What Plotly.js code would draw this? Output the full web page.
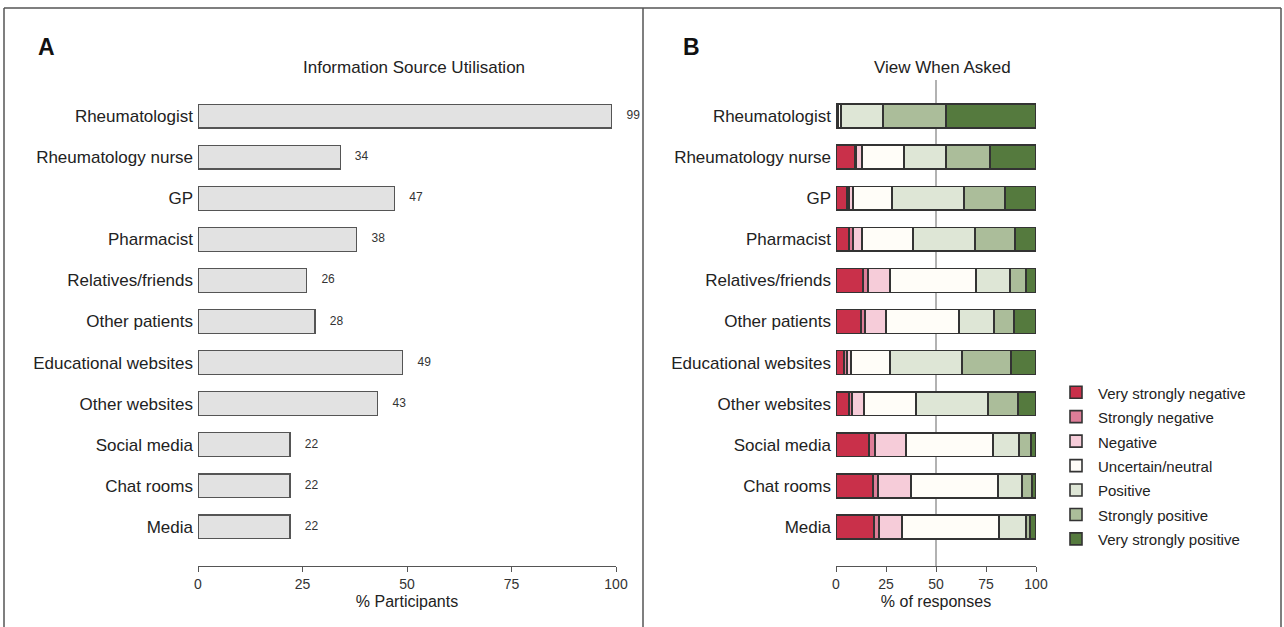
<!DOCTYPE html>
<html><head><meta charset="utf-8">
<script src="https://cdn.plot.ly/plotly-3.0.1.min.js"></script>
<style>html,body{margin:0;padding:0;background:#fff;}#chart{width:1284px;height:627px;}</style>
</head><body><div id="chart"></div>
<script>
var sources = ["Rheumatologist","Rheumatology nurse","GP","Pharmacist","Relatives/friends","Other patients","Educational websites","Other websites","Social media","Chat rooms","Media"];
var utilisation = [99,34,47,38,26,28,49,43,22,22,22];
var levels = ["Very strongly negative","Strongly negative","Negative","Uncertain/neutral","Positive","Strongly positive","Very strongly positive"];
var levelColors = ["#c9304a","#de7d98","#f6ccd9","#fffdf8","#dee6d6","#abbd9a","#557a3e"];
// percentages per source, one array per level (same order as sources)
var veryStrongNeg = [1,9.5,5.5,6.5,13.5,12.5,4,6.5,16.5,18.5,19];
var strongNeg     = [0,0.5,1,2,2.5,2,1.5,1.5,3,2.5,2.5];
var negative      = [0,3,2,4.5,11,10.5,2,6,15.5,16.5,11.5];
var neutral       = [1.5,21,19.5,25.5,43,36.5,19.5,26,43.5,43.5,48.5];
var positive      = [21,21,36,31,17,17.5,36,36,13,12,13.5];
var strongPos     = [31.5,22,20.5,20,8,10,24.5,15,6,5,2];
var veryStrongPos = [45,23,15.5,10.5,5,11,12.5,9,2.5,2,3];
var viewSeries = [veryStrongNeg,strongNeg,negative,neutral,positive,strongPos,veryStrongPos];
var xTicks = [0,25,50,75,100];

var FONT = "Liberation Sans, Arial, Helvetica, sans-serif";
var traces = [];
traces.push({
  type:"bar", orientation:"h", x:utilisation, y:sources, xaxis:"x", yaxis:"y",
  marker:{color:"#e2e2e2", line:{color:"#555", width:1.2}},
  width:0.58, showlegend:false, hoverinfo:"x+y"
});
traces.push({
  type:"scatter", mode:"markers+text", x:utilisation, y:sources, xaxis:"x", yaxis:"y",
  text:utilisation.map(String), textposition:"middle right",
  marker:{size:22, color:"rgba(0,0,0,0)"},
  textfont:{size:12, color:"#333", family:FONT}, cliponaxis:false, showlegend:false, hoverinfo:"skip"
});
for (var i=0;i<levels.length;i++){
  traces.push({
    type:"bar", orientation:"h", x:viewSeries[i], y:sources, xaxis:"x2", yaxis:"y2",
    name:'<span style="font-size:15px">'+levels[i]+'</span>',
    marker:{color:levelColors[i], line:{color:"#333", width:1.6}},
    width:0.58
  });
}
var yTop = 1-77/627, yBot = 1-566/627;
var L = "#555";
var layout = {
  width:1284, height:627, margin:{l:0,r:0,t:0,b:0},
  paper_bgcolor:"#fff", plot_bgcolor:"rgba(0,0,0,0)",
  font:{family:FONT, color:"#222"},
  barmode:"stack", showlegend:true,
  xaxis:{domain:[198/1284,616/1284], range:[0,100], tickvals:xTicks, showgrid:false, zeroline:false,
    showline:true, linecolor:L, linewidth:1.2, ticks:"outside", ticklen:5, tickcolor:L,
    tickfont:{size:14,color:"#333"}, title:{text:"% Participants", font:{size:16,color:"#222"}, standoff:4}, anchor:"y"},
  yaxis:{domain:[yBot,yTop], range:[10.95,-0.95], showgrid:false, zeroline:false, showline:false,
    ticks:"", tickfont:{size:17,color:"#222"}, ticklabelstandoff:4, anchor:"x"},
  xaxis2:{domain:[836/1284,1036/1284], range:[0,100], tickvals:xTicks, showgrid:false, zeroline:false,
    showline:true, linecolor:L, linewidth:1.2, ticks:"outside", ticklen:5, tickcolor:L,
    tickfont:{size:14,color:"#333"}, title:{text:"% of responses", font:{size:16,color:"#222"}, standoff:4}, anchor:"y2"},
  yaxis2:{domain:[yBot,yTop], range:[10.95,-0.95], showgrid:false, zeroline:false, showline:false,
    ticks:"", tickfont:{size:17,color:"#222"}, ticklabelstandoff:4, anchor:"x2"},
  legend:{x:1054/1284, y:1-375/627, xanchor:"left", yanchor:"top", traceorder:"normal",
    font:{size:16.5,color:"#222"}, itemwidth:34, bgcolor:"rgba(0,0,0,0)"},
  shapes:[
    {type:"line", xref:"x2", yref:"paper", x0:50, x1:50, y0:yBot, y1:1-80/627, line:{color:"#999", width:1.5}, layer:"below"},
    {type:"line", xref:"paper", yref:"paper", x0:4/1284, x1:1281/1284, y0:1-8/627, y1:1-8/627, line:{color:L,width:1.5}},
    {type:"line", xref:"paper", yref:"paper", x0:4/1284, x1:4/1284, y0:0, y1:1-8/627, line:{color:L,width:1.5}},
    {type:"line", xref:"paper", yref:"paper", x0:643/1284, x1:643/1284, y0:0, y1:1-8/627, line:{color:L,width:1.5}},
    {type:"line", xref:"paper", yref:"paper", x0:1281/1284, x1:1281/1284, y0:0, y1:1-8/627, line:{color:L,width:1.5}}
  ],
  annotations:[
    {text:"<b>A</b>", xref:"paper", yref:"paper", x:36/1284, y:1-47/627, xanchor:"left", yanchor:"middle", showarrow:false, font:{size:23,color:"#111"}},
    {text:"<b>B</b>", xref:"paper", yref:"paper", x:681/1284, y:1-47/627, xanchor:"left", yanchor:"middle", showarrow:false, font:{size:23,color:"#111"}},
    {text:"Information Source Utilisation", xref:"paper", yref:"paper", x:414/1284, y:1-68/627, xanchor:"center", yanchor:"middle", showarrow:false, font:{size:17,color:"#222"}},
    {text:"View When Asked", xref:"paper", yref:"paper", x:942/1284, y:1-68/627, xanchor:"center", yanchor:"middle", showarrow:false, font:{size:17,color:"#222"}}
  ]
};
Plotly.newPlot("chart", traces, layout, {displayModeBar:false, staticPlot:true});
</script></body></html>
